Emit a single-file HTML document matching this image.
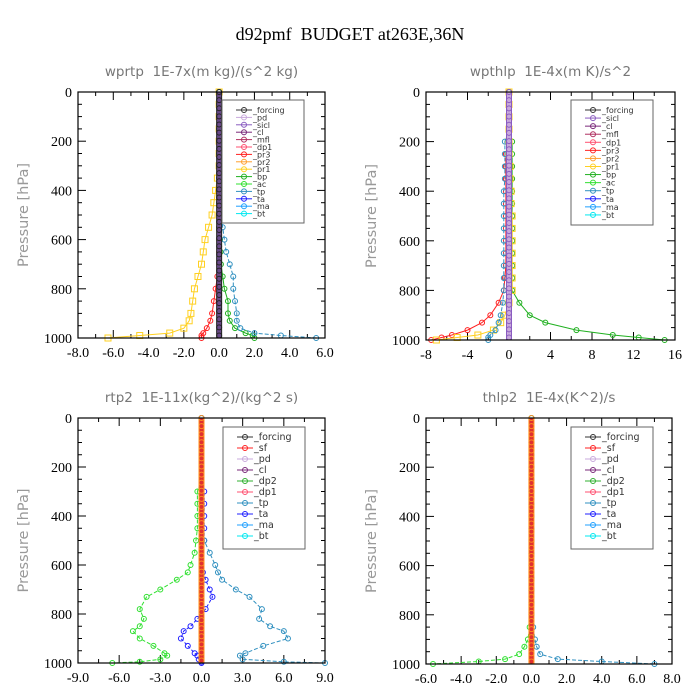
<!DOCTYPE html>
<html><head><meta charset="utf-8">
<style>
body{margin:0;background:#fff;}
svg{display:block;}
text{white-space:pre;}
</style></head>
<body>
<svg id="c" width="700" height="700" viewBox="0 0 700 700" xmlns="http://www.w3.org/2000/svg">
<text x="350" y="40" text-anchor="middle" font-family="Liberation Serif, serif" font-size="18" fill="#000">d92pmf&#160;&#160;BUDGET at263E,36N</text>
</svg>
<script>
// ---------- data ----------
const levels = [0,50,100,150,200,250,300,350,400,450,500,550,600,650,700,750,800,850,900,930,960,980,990,1000];
const yTicks = [0,200,400,600,800,1000];

const p1Ticks = [-8,-6,-4,-2,0,2,4,6];
const p1TickLabels = ["-8.0","-6.0","-4.0","-2.0","0.0","2.0","4.0","6.0"];
const p1Legend = ["_forcing","_pd","_sicl","_cl","_mfl","_dp1","_pr3","_pr2","_pr1","_bp","_ac","_tp","_ta","_ma","_bt"];
const p1Pr1 = [0,0,0,0,0,0,0,-0.1,-0.2,-0.3,-0.4,-0.6,-0.8,-0.9,-1.0,-1.2,-1.4,-1.5,-1.6,-1.7,-2.0,-2.8,-4.5,-6.3];
const p1Pr3 = [0,0,0,0,0,0,0,0,0,0,0,0,0,0,0,-0.1,-0.2,-0.3,-0.4,-0.5,-0.7,-0.9,-1.0,-1.0];
const p1Bp  = [0,0,0,0,0,0,0,0,0,0,0,0,0.05,0.08,0.1,0.2,0.3,0.5,0.5,0.6,0.9,1.5,1.9,2.0];
const p1Tp  = [0,0,0,0,0,0,0,0,0,0,0.1,0.2,0.3,0.4,0.6,0.8,0.8,0.9,1.0,1.0,1.2,2.0,3.5,5.5];

const p2Ticks = [-8,-4,0,4,8,12,16];
const p2TickLabels = ["-8","-4","0","4","8","12","16"];
const p2Legend = ["_forcing","_sicl","_cl","_mfl","_dp1","_pr3","_pr2","_pr1","_bp","_ac","_tp","_ta","_ma","_bt"];
const p2Bp  = [0,0,0,0,0.3,0.3,0.3,0.3,0.3,0.3,0.3,0.3,0.3,0.3,0.3,0.3,0.3,1.0,2.0,3.5,6.5,10,12.5,15];
const p2Pr3 = [0,0,0,0,0,-0.3,-0.3,-0.3,-0.3,-0.3,-0.3,-0.3,-0.3,-0.3,-0.3,-0.4,-0.5,-1.0,-1.8,-2.6,-4.0,-5.5,-6.5,-7.5];
const p2Pr1 = [0,0,0,0,0,0,0.1,0.1,0.2,0.2,0.3,0.3,0.3,0.3,0.3,0.3,0.3,0,-0.4,-0.8,-1.5,-3,-5,-7];
const p2Tp  = [0,0,0,0,-0.4,-0.4,-0.4,-0.4,-0.5,-0.5,-0.5,-0.5,-0.5,-0.5,-0.5,-0.5,-0.5,-0.6,-0.8,-1.0,-1.3,-1.8,-2.0,-2.0];

const p3Ticks = [-9,-6,-3,0,3,6,9];
const p3TickLabels = ["-9.0","-6.0","-3.0","0.0","3.0","6.0","9.0"];
const p3Legend = ["_forcing","_sf","_pd","_cl","_dp2","_dp1","_tp","_ta","_ma","_bt"];
const p3Levels = [0,250,300,350,400,450,500,550,600,630,660,700,730,780,820,850,870,900,930,960,970,985,995,1000];
const p3Dp1 = [0,0,-0.3,-0.3,-0.3,-0.3,-0.4,-0.5,-0.8,-1.0,-1.8,-3.0,-4.0,-4.5,-4.2,-4.5,-5.0,-4.5,-3.5,-2.7,-2.5,-3.0,-4.5,-6.5];
const p3Ta  = [0,0,0.2,0.2,0.2,0.2,0.2,0,0,0.1,0.3,0.6,0.8,0.3,-0.3,-0.8,-1.3,-1.5,-1.0,-0.5,-0.3,-0.2,0,0];
const p3Tp  = [0,0,0,0,0,0,0.2,0.6,1.0,1.2,1.5,2.5,3.5,4.4,4.2,5.0,6.0,6.3,4.5,3.2,2.8,3.0,6,9];

const p4Ticks = [-6,-4,-2,0,2,4,6,8];
const p4TickLabels = ["-6.0","-4.0","-2.0","0.0","2.0","4.0","6.0","8.0"];
const p4Legend = ["_forcing","_sf","_pd","_cl","_dp2","_dp1","_tp","_ta","_ma","_bt"];
const p4Dp1 = [0,0,0,0,0,0,0,0,0,0,0,0,0,0,0,0,0,-0.1,-0.2,-0.4,-0.7,-1.5,-3,-5.6];
const p4Tp  = [0,0,0,0,0,0,0,0,0,0,0,0,0,0,0,0,0,0.1,0.2,0.3,0.5,1.5,4,7];

const colorMap = {"_forcing":"#333","_pd":"#c9a9dc","_sicl":"#8a5cc0","_cl":"#7a2a7a","_mfl":"#b03060","_dp1":"#ff5070","_pr3":"#ff2020","_pr2":"#ffa030","_pr1":"#ffd020","_bp":"#20b020","_ac":"#30e030","_tp":"#3090c0","_ta":"#2020ff","_ma":"#20a0ff","_bt":"#00e8f0","_sf":"#ff2020","_dp2":"#30b030"};

// ---------- drawing ----------
const NS="http://www.w3.org/2000/svg";
const svg=document.getElementById('c');
function mk(tag,attrs,parent){const e=document.createElementNS(NS,tag);for(const k in attrs)e.setAttribute(k,attrs[k]);(parent||svg).appendChild(e);return e;}

function panel(o){
  const g=mk('g',{});
  
  
  const xs=v=>o.x0+(v-o.xmin)/(o.xmax-o.xmin)*(o.x1-o.x0);
  const ys=p=>o.y0+p/1000*(o.y1-o.y0);
  const t=mk('text',{x:(o.x0+o.x1)/2,y:o.y0-16,'text-anchor':'middle','font-family':'DejaVu Sans, sans-serif','font-size':'13.5',fill:'#777'},g);
  t.textContent=o.title;
  
  
  const yl=mk('text',{x:0,y:0,transform:`translate(${o.x0-50},${(o.y0+o.y1)/2}) rotate(-90)`,'text-anchor':'middle','font-family':'DejaVu Sans, sans-serif','font-size':'14.5',fill:'#999'},g);
  yl.textContent='Pressure [hPa]';
  
  
  for(let p=0;p<=1000;p+=50){
    const L=(p%200===0)?8:4;
    mk('line',{x1:o.x0,x2:o.x0+L,y1:ys(p),y2:ys(p),stroke:'#000','stroke-width':1},g);
    mk('line',{x1:o.x1,x2:o.x1-L,y1:ys(p),y2:ys(p),stroke:'#000','stroke-width':1},g);
  }
  yTicks.forEach(p=>{
    const tx=mk('text',{x:o.x0-6,y:ys(p)+5,'text-anchor':'end','font-family':'Liberation Serif, serif','font-size':'14',fill:'#000'},g);
    tx.textContent=String(p);
    
    
  });
  o.ticks.forEach((v,i)=>{
    mk('line',{x1:xs(v),x2:xs(v),y1:o.y1,y2:o.y1-8,stroke:'#000'},g);
    mk('line',{x1:xs(v),x2:xs(v),y1:o.y0,y2:o.y0+8,stroke:'#000'},g);
    if(i<o.ticks.length-1){const m=(v+o.ticks[i+1])/2;
      mk('line',{x1:xs(m),x2:xs(m),y1:o.y1,y2:o.y1-4,stroke:'#000'},g);
      mk('line',{x1:xs(m),x2:xs(m),y1:o.y0,y2:o.y0+4,stroke:'#000'},g);}
    const tx=mk('text',{x:xs(v),y:o.y1+19,'text-anchor':'middle','font-family':'Liberation Serif, serif','font-size':'14',fill:'#000'},g);
    tx.textContent=o.tickLabels[i];
    
    
  });
  o.series.forEach(s=>{
    const lv=s.levels||levels;
    const pts=lv.map((p,i)=>xs(s.vals[i]).toFixed(1)+','+ys(p).toFixed(1)).join(' ');
    const pl=mk('polyline',{points:pts,fill:'none',stroke:s.color,'stroke-width':1,'stroke-dasharray':s.dash||''},g);
    
    
    lv.forEach((p,i)=>{
      if(s.sq) mk('rect',{x:xs(s.vals[i])-3,y:ys(p)-3,width:6,height:6,fill:'none',stroke:s.color},g);
      else mk('circle',{cx:xs(s.vals[i]),cy:ys(p),r:2.5,fill:'none',stroke:s.color},g);
    });
  });
  const z=mk('rect',{x:xs(0)-2.5,y:o.y0,width:5,height:o.y1-o.y0,fill:o.zeroColor,stroke:o.zeroEdge,'stroke-width':1},g);
  
  
  for(let p=0;p<=1000;p+=33) mk('circle',{cx:xs(0),cy:ys(p),r:2.5,fill:'none',stroke:o.zeroEdge},g);
  mk('rect',{x:o.x0,y:o.y0,width:o.x1-o.x0,height:o.y1-o.y0,fill:'none',stroke:'#000','stroke-width':1.2},g);
  const lg=mk('g',{},g);
  
  
  mk('rect',{x:o.lx,y:o.ly,width:82,height:o.lh,fill:'#fff',stroke:'#666'},lg);
  const step=(o.lh-12)/o.legend.length;
  o.legend.forEach((n,i)=>{
    const yy=o.ly+10+i*step;
    const c=colorMap[n]||'#000';
    mk('line',{x1:o.lx+14,x2:o.lx+30,y1:yy,y2:yy,stroke:c},lg);
    mk('circle',{cx:o.lx+22,cy:yy,r:2.5,fill:'none',stroke:c},lg);
    const tx=mk('text',{x:o.lx+31,y:yy+3,'font-family':'DejaVu Sans, sans-serif','font-size':o.legend.length>12?'8':'9.5',fill:'#333'},lg);
    tx.textContent=n;
    
    
  });
}

panel({name:'wprtp',title:'wprtp  1E-7x(m kg)/(s^2 kg)',x0:78,x1:325,y0:92,y1:338,xmin:-8,xmax:6,ticks:p1Ticks,tickLabels:p1TickLabels,
  legend:p1Legend,lx:222,ly:100,lh:123,zeroColor:'#6a4a8a',zeroEdge:'#222',
  series:[{key:'-pr1',vals:p1Pr1,color:'#ffd020',sq:true},{key:'-pr3',vals:p1Pr3,color:'#ff2020'},{key:'-bp',vals:p1Bp,color:'#20b020'},{key:'-tp',vals:p1Tp,color:'#3090c0',dash:'4,2'}]});
panel({name:'wpthlp',title:'wpthlp  1E-4x(m K)/s^2',x0:426,x1:675,y0:92,y1:340,xmin:-8,xmax:16,ticks:p2Ticks,tickLabels:p2TickLabels,
  legend:p2Legend,lx:571,ly:100,lh:125,zeroColor:'#c9a9dc',zeroEdge:'#8a5cc0',
  series:[{key:'-bp',vals:p2Bp,color:'#20b020'},{key:'-pr3',vals:p2Pr3,color:'#ff2020'},{key:'-pr1',vals:p2Pr1,color:'#ffd020',sq:true},{key:'-tp',vals:p2Tp,color:'#3090c0',dash:'4,2'}]});
panel({name:'rtp2',title:'rtp2  1E-11x(kg^2)/(kg^2 s)',x0:78,x1:325,y0:418,y1:663,xmin:-9,xmax:9,ticks:p3Ticks,tickLabels:p3TickLabels,
  legend:p3Legend,lx:223,ly:427,lh:122,zeroColor:'#e03030',zeroEdge:'#ff9020',
  series:[{key:'-dp1',levels:p3Levels,vals:p3Dp1,color:'#30e030',dash:'4,2'},{key:'-ta',levels:p3Levels,vals:p3Ta,color:'#2020ff',dash:'3,2'},{key:'-tp',levels:p3Levels,vals:p3Tp,color:'#3090c0',dash:'4,2'}]});
panel({name:'thlp2',title:'thlp2  1E-4x(K^2)/s',x0:426,x1:672,y0:418,y1:664,xmin:-6,xmax:8,ticks:p4Ticks,tickLabels:p4TickLabels,
  legend:p4Legend,lx:571,ly:427,lh:122,zeroColor:'#e03030',zeroEdge:'#ff9020',
  series:[{key:'-dp1',vals:p4Dp1,color:'#30e030',dash:'4,2'},{key:'-tp',vals:p4Tp,color:'#3090c0',dash:'4,2'}]});
</script>
</body></html>
